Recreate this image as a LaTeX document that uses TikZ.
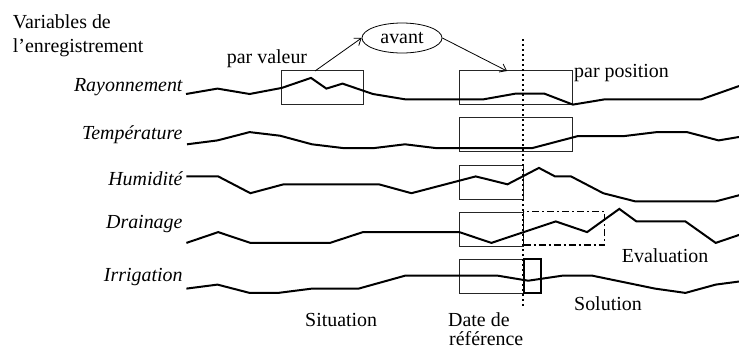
\documentclass[tikz,border=0pt]{standalone}
\usepackage{fontspec}
\setmainfont{Liberation Serif}
\usetikzlibrary{shapes.geometric,arrows.meta}
\tikzset{
  txt/.style={inner sep=0pt,font=\fontsize{20}{24}\selectfont},
  lbl/.style={txt,anchor=base east,font=\fontsize{20}{24}\selectfont\itshape},
  series/.style={line width=2bp,line join=miter},
  frame/.style={draw=black!85,line width=1bp,inner sep=0pt,minimum height=34bp},
  bold frame/.style={draw=black,line width=2bp,inner sep=0pt,minimum height=34bp},
  evalframe/.style={draw=black,line width=1.4bp,dash pattern=on 7bp off 3bp on 2bp off 3bp,inner sep=0pt},
  link/.style={line width=0.8bp,-{Straight Barb[length=6bp,width=9bp]}},
  refline/.style={line width=2bp,dash pattern=on 2bp off 3bp}
}
\begin{document}
\begin{tikzpicture}[x=1bp,y=-1bp]
\useasboundingbox (0,0) rectangle (739,349);

% headings
\node[txt,anchor=base west] (v1) at (12.7,28) {Variables de};
\node[txt,anchor=base west] (v2) at (12.7,52) {l’enregistrement};

% variable labels
\node[lbl] (ray) at (182.7,91) {Rayonnement};
\node[lbl] (tem) at (182.7,139.3) {Température};
\node[lbl] (hum) at (182.7,185) {Humidité};
\node[lbl] (dra) at (182.7,228.3) {Drainage};
\node[lbl] (irr) at (182.7,281) {Irrigation};

% boxes
\node[frame,minimum width=81.4bp] (pv) at (322.5,87.8) {};
\node[frame,minimum width=112.8bp] (pp) at (515.7,87.8) {};
\node[frame,minimum width=112.8bp] (tb) at (515.7,134.6) {};
\node[frame,minimum width=64.3bp] (hb) at (491.45,182.3) {};
\node[frame,minimum width=64.3bp] (db) at (491.45,229.2) {};
\node[evalframe,minimum width=80.7bp,minimum height=33.6bp] (eb) at (563.95,228.2) {};
\node[frame,minimum width=64.3bp] (ib) at (491.45,276.4) {};
\node[bold frame,minimum width=17.8bp] (sb) at (532.5,276.4) {};

% series
\draw[series] (186,94) -- (217.5,88.6) -- (249.6,94) -- (281.8,87.9) -- (311,77.9) -- (326.4,88.6) -- (342.5,83.6) -- (372.9,94) -- (405,99.3) -- (483.6,99.3) -- (515.7,93.6) -- (544.3,93.6) -- (572.9,104.6) -- (605,99.3) -- (701.4,99.3) -- (740,85.7);
\draw[series] (187,144.3) -- (217.5,140.4) -- (249.6,132.1) -- (280,135.7) -- (312,144.3) -- (344.3,148.2) -- (372.9,148.2) -- (405,144.3) -- (437,148.2) -- (531.8,148.2) -- (578.2,136) -- (624.6,136) -- (656.8,132.1) -- (687,132.1) -- (718.6,140.4) -- (740,136.8);
\draw[series] (186.4,176.4) -- (218.2,176.4) -- (250.4,193.2) -- (283.6,184.3) -- (378.9,184.3) -- (411.4,193.2) -- (475.7,176.4) -- (507.5,184.3) -- (538.9,167.9) -- (555,176.4) -- (571,176.4) -- (603.2,193.2) -- (635.4,201.4) -- (715.7,201.4) -- (740,195);
\draw[series] (186.4,242.9) -- (218.2,232.1) -- (250.4,242.9) -- (330,242.9) -- (362.9,232.1) -- (459.3,232.1) -- (491.4,242.9) -- (523.6,232.1) -- (555.7,221.4) -- (587.1,232.1) -- (619.3,208.9) -- (636.4,221.4) -- (685.4,221.4) -- (715.7,242.9) -- (740,234.6);
\draw[series] (186.4,288.6) -- (217.5,284.6) -- (249.6,292.9) -- (278.2,292.9) -- (312,288.6) -- (358.6,288.6) -- (405,275.7) -- (497.9,275.7) -- (528.2,280.7) -- (562.1,275.7) -- (592.5,275.7) -- (655,288.6) -- (685.4,292.9) -- (715.7,284.6) -- (740,281.4);

% reference date
\coordinate (rtop) at (522.8,39);
\coordinate (rbot) at (522.8,306);
\draw[refline] (rtop) -- (rbot);

% ellipse and arrows
\node[draw,ellipse,line width=0.8bp,minimum width=80bp,minimum height=30bp,inner sep=0pt,txt] (av) at (402,38) {avant};
\coordinate (pvtop) at (315,71);
\coordinate (pptop) at (507,71);
\draw[link] (pvtop) -- (av.west);
\draw[link] (av.east) -- (pptop);

% texts
\node[txt,anchor=base west] (tpv) at (226.7,63.3) {par valeur};
\node[txt,anchor=base west] (tpp) at (574,77.3) {par position};
\node[txt,anchor=base west] (tev) at (621.7,262.3) {Evaluation};
\node[txt,anchor=base west] (tso) at (574,310) {Solution};
\node[txt,anchor=base west] (tsi) at (305,326.7) {Situation};
\node[txt,anchor=base west] (td1) at (448,326.2) {Date de};
\node[txt,anchor=base west] (td2) at (449,345.2) {référence};
\end{tikzpicture}
\end{document}
